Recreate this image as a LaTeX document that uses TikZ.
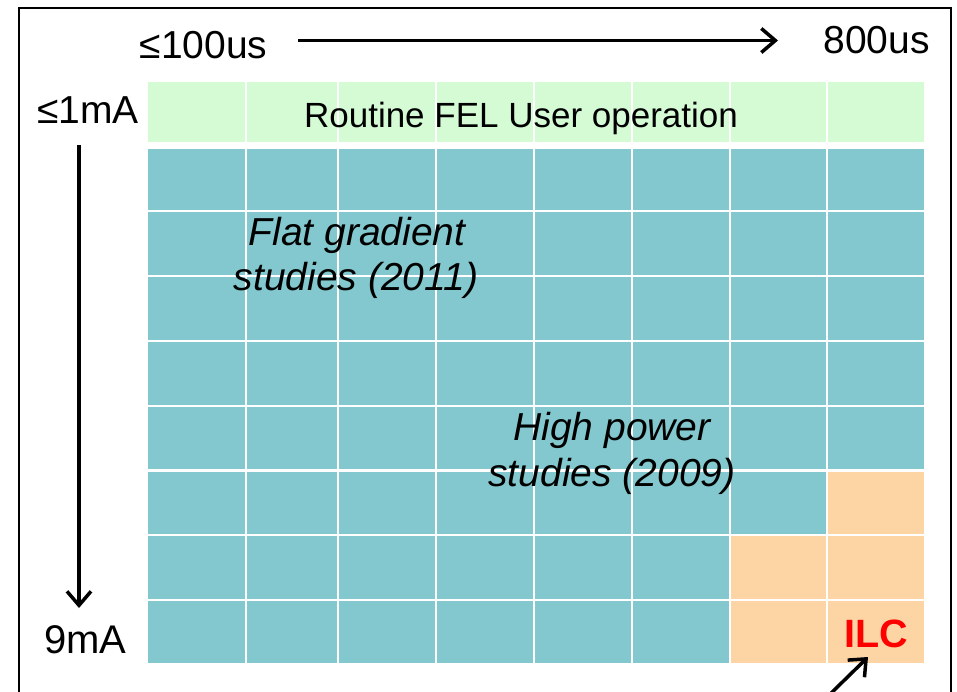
\documentclass[tikz,border=0pt]{standalone}
\usepackage{fontspec}
\setmainfont{Liberation Sans}
\usetikzlibrary{arrows.meta}
\definecolor{tealc}{RGB}{130,200,206}
\definecolor{greenc}{RGB}{213,251,213}
\definecolor{orangec}{RGB}{253,213,165}
\definecolor{redc}{RGB}{255,0,0}
\begin{document}
\begin{tikzpicture}[x=1pt,y=-1pt,
  big/.style={inner sep=0pt,anchor=base,font=\fontsize{39}{46}\selectfont},
  mid/.style={inner sep=0pt,anchor=base,font=\fontsize{35}{42}\selectfont},
  ital/.style={inner sep=0pt,anchor=base,font=\fontsize{39}{46}\selectfont\itshape},
  arr/.style={line width=3.5pt,-{Straight Barb[length=14pt,width=24pt]}},
  gridline/.style={white,line width=2.5pt}]
\useasboundingbox (0,0) rectangle (957,691);
\fill[white] (0,0) rectangle (957,691);
% outer frame
\draw[line width=2pt] (19,8) rectangle (951,730);
% cells
\fill[greenc] (148,82) rectangle (924,142);
\fill[tealc] (148,149) rectangle (924,663);
\fill[orangec] (827,470.5) rectangle (924,663);
\fill[orangec] (730,535) rectangle (827,663);
\foreach \x in {246,338,436,534,632,730,827}
  \draw[gridline] (\x,82) -- (\x,142) (\x,149) -- (\x,663);
\foreach \y in {211,276,341,406,470.5,535,600}
  \draw[gridline] (148,\y) -- (924,\y);
% labels
\node[big] (t100) at (203.5,58) {≤100us};
\node[big] (t800) at (876.5,53) {800us};
\node[big] (t1ma) at (88,123) {≤1mA};
\node[big,font=\fontsize{40}{46}\selectfont] (t9ma) at (85.5,653) {9mA};
\node[mid] (routine) at (521,127) {Routine FEL User operation};
\node[ital] (flat1) at (357,245) {Flat gradient};
\node[ital] (flat2) at (356,290) {studies (2011)};
\node[ital] (high1) at (612,440) {High power};
\node[ital] (high2) at (612,486) {studies (2009)};
\node[big,text=redc,font=\fontsize{39.5}{46}\selectfont\bfseries] (ilc) at (876,647) {ILC};
% arrows
\coordinate (hs) at (298,40.5);
\coordinate (he) at (778,40.5);
\coordinate (vs) at (79,145);
\coordinate (ve) at (79,608);
\coordinate (ds) at (821,703);
\coordinate (de) at (868,657);
\draw[arr] (hs) -- (he);
\draw[arr] (vs) -- (ve);
\draw[arr] (ds) -- (de);
\end{tikzpicture}
\end{document}
